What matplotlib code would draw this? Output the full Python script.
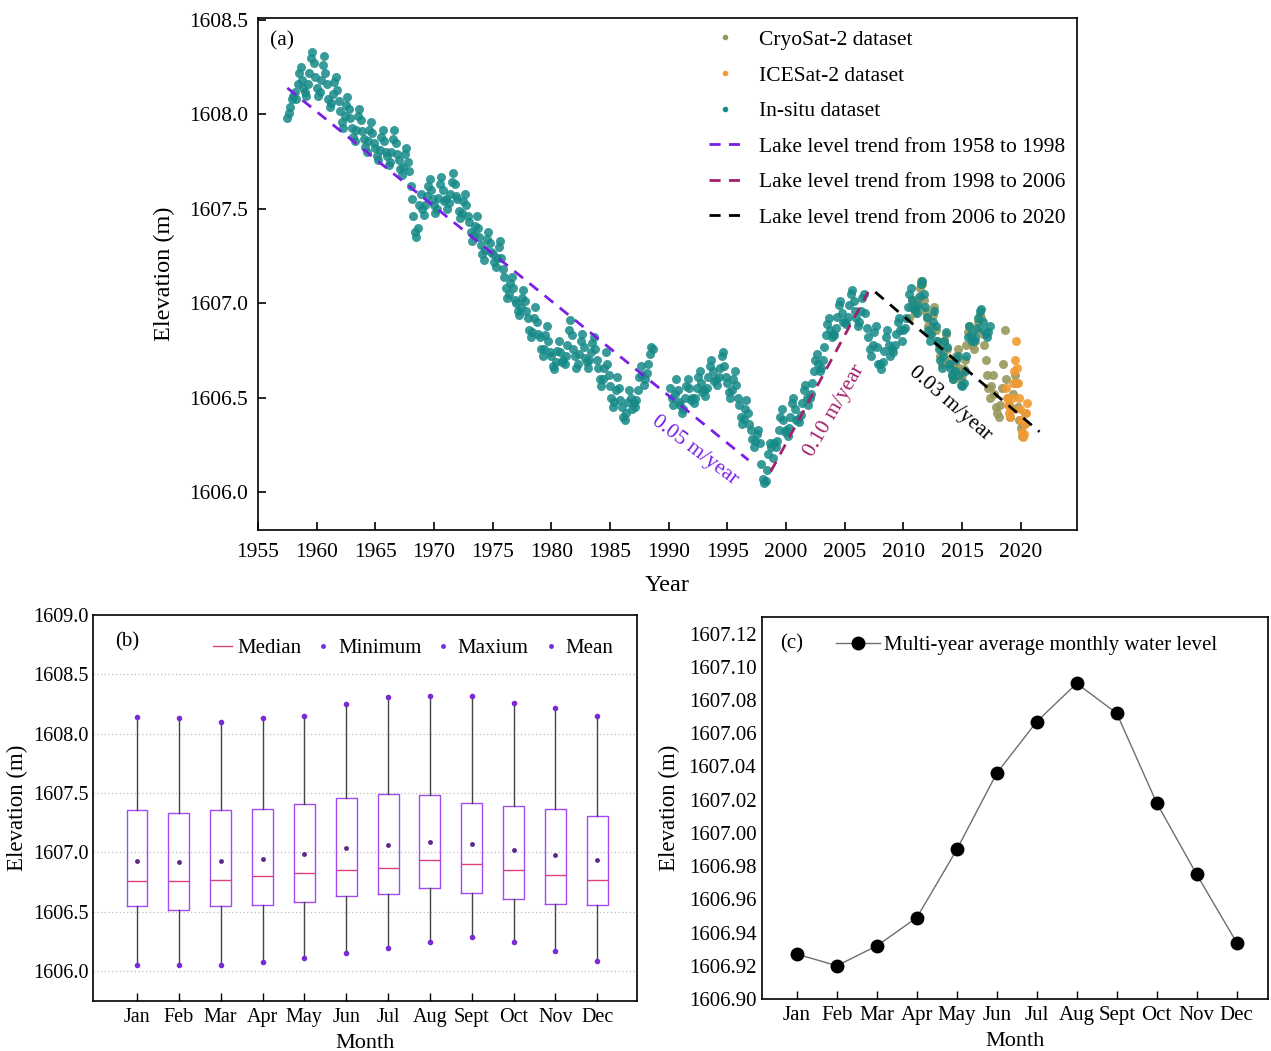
#!/usr/bin/env python3
"""
Lake level figure: (a) long-term elevation series with trend segments,
(b) monthly box statistics, (c) multi-year average monthly level.
"""

import numpy as np
import matplotlib
matplotlib.use("Agg")
import matplotlib.pyplot as plt
from matplotlib.lines import Line2D

plt.rcParams['font.family'] = ['Liberation Serif', 'DejaVu Serif']
plt.rcParams['mathtext.fontset'] = 'stix'

# ---------------------------------------------------------------------------
# (a) in-situ levels, 8 samples per year starting 1957.5 (nan = no record)
NAN = float('nan')
INSITU_START = 1957.5
INSITU_ROWS = [
    [1607.98, 1608.01, 1608.04, 1608.08],                                   # 1957 (2nd half)
    [1608.10, 1608.12, 1608.08, 1608.16, 1608.22, 1608.25, 1608.18, 1608.14],  # 1958
    [1608.12, 1608.10, 1608.16, 1608.22, 1608.30, 1608.33, 1608.27, 1608.20],
    [1608.14, 1608.10, 1608.12, 1608.18, 1608.26, 1608.31, 1608.22, 1608.16],  # 1960
    [1608.08, 1608.04, 1608.06, 1608.11, 1608.17, 1608.20, 1608.13, 1608.07],
    [1608.02, 1607.96, 1607.93, 1607.99, 1608.05, 1608.09, 1608.03, 1607.98],
    [1607.93, 1607.88, 1607.86, 1607.92, 1607.99, 1608.03, 1607.97, 1607.91],
    [1607.87, 1607.83, 1607.80, 1607.86, 1607.92, 1607.96, 1607.90, 1607.85],
    [1607.82, 1607.78, 1607.76, 1607.81, 1607.88, 1607.92, 1607.86, 1607.80],  # 1965
    [1607.78, 1607.73, 1607.75, 1607.80, 1607.87, 1607.92, 1607.85, 1607.79],
    [1607.76, 1607.71, 1607.68, 1607.72, 1607.79, 1607.82, 1607.75, 1607.70],
    [1607.62, 1607.55, 1607.46, 1607.38, 1607.35, 1607.40, 1607.52, 1607.58],
    [1607.50, 1607.47, 1607.52, 1607.57, 1607.62, 1607.66, 1607.60, 1607.55],
    [1607.52, 1607.48, 1607.50, 1607.56, 1607.63, 1607.67, 1607.60, 1607.54],  # 1970
    [1607.55, 1607.50, 1607.53, 1607.58, 1607.64, 1607.69, 1607.63, 1607.57],
    [1607.55, 1607.49, 1607.45, 1607.48, 1607.54, 1607.58, 1607.52, 1607.46],
    [1607.43, 1607.38, 1607.33, 1607.36, 1607.41, 1607.46, 1607.40, 1607.35],
    [1607.31, 1607.26, 1607.23, 1607.28, 1607.34, 1607.38, 1607.32, 1607.27],
    [1607.26, 1607.22, 1607.19, 1607.24, 1607.30, 1607.33, 1607.24, 1607.18],  # 1975
    [1607.14, 1607.08, 1607.03, 1607.05, 1607.11, 1607.14, 1607.08, 1607.02],
    [1607.00, 1606.96, 1606.94, 1606.98, 1607.03, 1607.07, 1607.01, 1606.96],
    [1606.92, 1606.86, 1606.82, 1606.85, 1606.92, 1606.98, 1606.90, 1606.84],
    [1606.82, 1606.76, 1606.72, 1606.76, 1606.83, 1606.88, 1606.80, 1606.74],
    [1606.72, 1606.67, 1606.65, 1606.69, 1606.75, 1606.80, 1606.74, 1606.69],  # 1980
    [1606.70, 1606.68, 1606.72, 1606.78, 1606.86, 1606.91, 1606.83, 1606.76],
    [1606.72, 1606.66, 1606.68, 1606.73, 1606.80, 1606.84, 1606.77, 1606.71],
    [1606.69, 1606.66, 1606.70, 1606.74, 1606.79, 1606.82, 1606.76, 1606.70],
    [1606.66, 1606.60, 1606.56, 1606.60, 1606.66, 1606.74, 1606.68, 1606.62],
    [1606.56, 1606.50, 1606.45, 1606.48, 1606.54, 1606.61, 1606.55, 1606.49],  # 1985
    [1606.45, 1606.40, 1606.38, 1606.42, 1606.48, 1606.54, 1606.50, 1606.44],
    [1606.47, 1606.45, 1606.49, 1606.54, 1606.61, 1606.67, 1606.62, 1606.57],
    [1606.60, 1606.63, 1606.68, 1606.73, 1606.77, 1606.76, NAN, NAN],
    [NAN, NAN, NAN, NAN, NAN, NAN, NAN, NAN],                                   # 1989
    [NAN, 1606.55, 1606.50, 1606.46, 1606.52, 1606.60, 1606.54, 1606.48],     # 1990
    [1606.46, 1606.42, 1606.44, 1606.50, 1606.56, 1606.60, 1606.55, 1606.49],
    [1606.50, 1606.47, 1606.50, 1606.55, 1606.61, 1606.64, 1606.58, 1606.53],
    [1606.54, 1606.51, 1606.55, 1606.61, 1606.67, 1606.70, 1606.64, 1606.59],
    [1606.60, 1606.57, 1606.61, 1606.66, 1606.72, 1606.74, 1606.67, 1606.61],
    [1606.58, 1606.53, 1606.50, 1606.54, 1606.60, 1606.64, 1606.57, 1606.50],  # 1995
    [1606.46, 1606.40, 1606.36, 1606.39, 1606.44, 1606.49, 1606.42, 1606.36],
    [1606.33, 1606.28, 1606.24, 1606.27, 1606.31, 1606.33, 1606.26, 1606.15],
    [1606.07, 1606.05, 1606.06, 1606.12, 1606.20, 1606.26, 1606.24, 1606.18],
    [1606.26, 1606.24, 1606.27, 1606.33, 1606.40, 1606.44, 1606.38, 1606.32],
    [1606.33, 1606.30, 1606.34, 1606.40, 1606.47, 1606.50, 1606.44, 1606.38],  # 2000
    [1606.39, 1606.37, 1606.41, 1606.47, 1606.54, 1606.57, 1606.50, 1606.46],
    [1606.50, 1606.52, 1606.58, 1606.64, 1606.70, 1606.73, 1606.68, 1606.64],
    [1606.66, 1606.70, 1606.77, 1606.83, 1606.89, 1606.92, 1606.86, 1606.82],
    [1606.84, 1606.83, 1606.87, 1606.93, 1606.99, 1607.01, 1606.95, 1606.90],
    [1606.90, 1606.89, 1606.93, 1606.99, 1607.05, 1607.07, 1607.01, 1606.96],  # 2005
    [1606.92, 1606.88, 1606.90, 1606.96, 1607.03, 1607.05, 1606.95, 1606.87],
    [1606.82, 1606.76, 1606.72, 1606.78, 1606.85, 1606.88, 1606.77, 1606.68],
    [1606.68, 1606.65, 1606.69, 1606.75, 1606.82, 1606.86, 1606.78, 1606.72],
    [1606.76, 1606.74, 1606.78, 1606.84, 1606.90, 1606.92, 1606.86, 1606.80],
    [1606.86, 1606.87, 1606.92, 1606.98, 1607.05, 1607.08, 1607.02, 1606.97],  # 2010
    [1606.97, 1606.95, 1606.99, 1607.04, 1607.10, 1607.12, 1607.05, 1606.98],
    [1606.93, 1606.86, 1606.80, 1606.84, 1606.90, 1606.96, 1606.88, 1606.80],
    [1606.76, 1606.70, 1606.66, 1606.72, 1606.80, 1606.85, 1606.77, 1606.68],
    [1606.66, 1606.62, 1606.60, 1606.64, 1606.70, 1606.72, 1606.62, 1606.57],
    [1606.56, 1606.58, 1606.64, 1606.72, 1606.82, 1606.88, 1606.84, 1606.80],  # 2015
    [1606.80, 1606.82, 1606.87, 1606.92, 1606.96, 1606.97, 1606.90, 1606.86],
    [1606.84, 1606.82, 1606.85, 1606.88],
]

# CryoSat-2 altimetry, 8 samples per year starting 2010.5
CRYO_START = 2010.5
CRYO_ROWS = [
    [1606.92, 1606.98, 1607.02, 1607.00],
    [1606.95, 1606.98, 1607.03, 1607.08, 1607.12, 1607.10, 1607.02, 1606.96],  # 2011
    [1606.92, 1606.88, 1606.84, 1606.88, 1606.94, 1606.98, 1606.86, 1606.80],
    [1606.78, 1606.72, 1606.68, 1606.74, 1606.80, 1606.84, 1606.76, 1606.70],
    [1606.68, 1606.62, 1606.60, 1606.66, 1606.72, 1606.76, 1606.66, 1606.60],
    [1606.62, 1606.65, 1606.70, 1606.78, 1606.85, 1606.88, 1606.82, 1606.78],  # 2015
    [1606.76, 1606.80, 1606.86, 1606.90, 1606.94, 1606.92, 1606.84, 1606.78],
    [1606.70, 1606.62, 1606.55, 1606.50, 1606.56, 1606.62, 1606.52, 1606.45],
    [1606.42, 1606.40, 1606.46, 1606.55, 1606.68, 1606.86, 1606.60, 1606.50],
    [1606.46, 1606.40, 1606.44, 1606.52, 1606.62, 1606.58, 1606.45, 1606.38],
    [1606.34, 1606.30, 1606.36, 1606.42],                                   # 2020
]

# ICESat-2 altimetry, monthly from 2018.75
ICE_START = 2018.75
ICE_VALUES = [1606.55, 1606.50, 1606.46, 1606.42, 1606.40, 1606.44, 1606.50, 1606.58,
              1606.64, 1606.70, 1606.80, 1606.66, 1606.58, 1606.50, 1606.44, 1606.38,
              1606.32, 1606.29, 1606.31, 1606.36, 1606.42, 1606.47]

# trend segments: (start year, end year), (start level, end level)
TREND_YEARS = [(1957.5, 1996.8), (1998.7, 2007.0), (2007.6, 2021.6)]
TREND_LEVELS = [(1608.14, 1606.17), (1606.11, 1607.06), (1607.06, 1606.32)]
TREND_LABELS = ['Lake level trend from 1958 to 1998',
                'Lake level trend from 1998 to 2006',
                'Lake level trend from 2006 to 2020']
RATE_TEXT = ['0.05 m/year', '0.10 m/year', '0.03 m/year']
RATE_POS = [(1992.2, 1606.22), (2004.1, 1606.43), (2014.0, 1606.47)]
RATE_ROT = [-37, 60, -41]

# ---------------------------------------------------------------------------
# (b) monthly statistics
MONTHS = ['Jan', 'Feb', 'Mar', 'Apr', 'May', 'Jun', 'Jul', 'Aug', 'Sept', 'Oct', 'Nov', 'Dec']
MONTH_MAX = [1608.14, 1608.13, 1608.10, 1608.13, 1608.15, 1608.25,
             1608.31, 1608.32, 1608.32, 1608.26, 1608.22, 1608.15]
MONTH_Q3 = [1607.36, 1607.33, 1607.36, 1607.37, 1607.41, 1607.46,
            1607.49, 1607.48, 1607.42, 1607.39, 1607.37, 1607.31]
MONTH_MED = [1606.76, 1606.76, 1606.77, 1606.80, 1606.83, 1606.85,
             1606.87, 1606.94, 1606.90, 1606.85, 1606.81, 1606.77]
MONTH_Q1 = [1606.55, 1606.52, 1606.55, 1606.56, 1606.58, 1606.63,
            1606.65, 1606.70, 1606.66, 1606.61, 1606.57, 1606.56]
MONTH_MIN = [1606.05, 1606.05, 1606.05, 1606.08, 1606.11, 1606.15,
             1606.20, 1606.25, 1606.29, 1606.25, 1606.17, 1606.09]
# (c) multi-year average monthly level (also the box means)
MONTH_MEAN = [1606.927, 1606.920, 1606.932, 1606.949, 1606.990, 1607.036,
              1607.067, 1607.090, 1607.072, 1607.018, 1606.975, 1606.934]

TEAL = '#168a87'
OLIVE = '#97985c'
ORANGE = '#f29a33'
PURPLE = '#7a1fe6'
MAGENTA = '#a3206a'


def series(start, rows, step):
    vals = np.array([v for row in rows for v in row], dtype=float)
    t = start + np.arange(len(vals)) * step
    return t, vals


def plot_series(ax):
    t_c, v_c = series(CRYO_START, CRYO_ROWS, 1 / 8)
    t_i, v_i = series(ICE_START, [ICE_VALUES], 1 / 12)
    t_s, v_s = series(INSITU_START, INSITU_ROWS, 1 / 8)

    ax.scatter(t_c, v_c, s=42, color=OLIVE, alpha=0.9, lw=0, zorder=2)
    ax.scatter(t_i, v_i, s=42, color=ORANGE, alpha=0.9, lw=0, zorder=2)
    ax.scatter(t_s, v_s, s=42, color=TEAL, alpha=0.85, lw=0, zorder=3)

    colors = [PURPLE, MAGENTA, 'black']
    for yrs, lv, c in zip(TREND_YEARS, TREND_LEVELS, colors):
        ax.plot(yrs, lv, color=c, lw=2, ls=(0, (4, 3)), zorder=4)
    for txt, pos, rot, c in zip(RATE_TEXT, RATE_POS, RATE_ROT, colors):
        ax.text(pos[0], pos[1], txt, color=c, fontsize=15.5, rotation=rot,
                rotation_mode='anchor', ha='center', va='center', zorder=5)

    ax.set_xlim(1955, 2024.8)
    ax.set_ylim(1605.80, 1608.51)
    ax.set_xticks(np.arange(1955, 2021, 5))
    ax.set_yticks(np.arange(1606.0, 1608.51, 0.5))
    ax.yaxis.set_major_formatter(matplotlib.ticker.FormatStrFormatter('%.1f'))
    ax.tick_params(direction='in', length=6, width=1.2, labelsize=15.5, pad=7)
    ax.tick_params(axis='x', pad=9)
    ax.set_xlabel('Year', fontsize=17.5, labelpad=10)
    ax.set_ylabel('Elevation (m)', fontsize=17.5, labelpad=10)
    ax.text(0.015, 0.955, '(a)', transform=ax.transAxes, fontsize=15.5, va='center')

    handles = [
        Line2D([], [], ls='none', marker='o', ms=3, color=OLIVE),
        Line2D([], [], ls='none', marker='o', ms=3, color=ORANGE),
        Line2D([], [], ls='none', marker='o', ms=3, color=TEAL),
    ] + [Line2D([], [], color=c, lw=2, ls=(0, (4, 3))) for c in colors]
    labels = ['CryoSat-2 dataset', 'ICESat-2 dataset', 'In-situ dataset'] + TREND_LABELS
    ax.legend(handles, labels, loc='upper right', frameon=False, fontsize=15.5,
              handlelength=1.5, handletextpad=0.8, labelspacing=0.72,
              borderaxespad=0.15)


def plot_boxes(ax):
    pos = np.arange(len(MONTHS))
    stats = []
    for i, m in enumerate(MONTHS):
        stats.append(dict(label=m, med=MONTH_MED[i], q1=MONTH_Q1[i], q3=MONTH_Q3[i],
                          whislo=MONTH_MIN[i], whishi=MONTH_MAX[i],
                          mean=MONTH_MEAN[i], fliers=[]))
    ax.bxp(stats, positions=pos, widths=0.5, showmeans=True, showcaps=False,
           boxprops=dict(color='#a24cf0', lw=1),
           medianprops=dict(color='#e0407a', lw=1),
           whiskerprops=dict(color='#444444', lw=1),
           meanprops=dict(marker='o', ms=3.5, mfc='#5e2a8a', mec='none'))
    ax.plot(pos, MONTH_MIN, ls='none', marker='o', ms=3, color='#7a2bd6', zorder=4)
    ax.plot(pos, MONTH_MAX, ls='none', marker='o', ms=3, color='#7a2bd6', zorder=4)

    ax.set_xlim(-1.05, 11.95)
    ax.set_ylim(1605.75, 1609.0)
    ax.set_yticks(np.arange(1606.0, 1609.01, 0.5))
    ax.yaxis.set_major_formatter(matplotlib.ticker.FormatStrFormatter('%.1f'))
    ax.set_xticks(pos)
    ax.set_xticklabels(MONTHS)
    for y in np.arange(1606.0, 1608.51, 0.5):
        ax.axhline(y, color='#bbbbbb', lw=0.9, ls=(0, (1, 2)), zorder=0)
    ax.tick_params(axis='x', direction='in', length=6, width=1, labelsize=14.5, pad=5)
    ax.tick_params(axis='y', length=0, labelsize=14.5, pad=3)
    ax.set_xlabel('Month', fontsize=16, labelpad=5)
    ax.set_ylabel('Elevation (m)', fontsize=16.5, labelpad=4)
    ax.text(0.04, 0.93, '(b)', transform=ax.transAxes, fontsize=15, va='center')

    handles = [Line2D([], [], color='#e0407a', lw=1)] + \
              [Line2D([], [], ls='none', marker='o', ms=2.5, color='#7a2bd6')] * 3
    ax.legend(handles, ['Median', 'Minimum', 'Maxium', 'Mean'], loc='upper right',
              ncol=4, frameon=False, fontsize=15, handlelength=0.9,
              handletextpad=0.25, columnspacing=0.6, borderaxespad=0.75)


def plot_monthly(ax):
    pos = np.arange(len(MONTHS))
    ax.plot(pos, MONTH_MEAN, color='#6e6e6e', lw=1, marker='o', ms=9,
            mfc='black', mec='black', label='Multi-year average monthly water level')
    ax.set_xlim(-0.875, 11.78)
    ax.set_ylim(1606.90, 1607.13)
    ax.set_yticks(np.arange(1606.90, 1607.121, 0.02))
    ax.yaxis.set_major_formatter(matplotlib.ticker.FormatStrFormatter('%.2f'))
    ax.set_xticks(pos)
    ax.set_xticklabels(MONTHS)
    ax.tick_params(axis='x', direction='in', length=6, width=1, labelsize=15, pad=5)
    ax.tick_params(axis='y', length=0, labelsize=15, pad=4)
    ax.set_xlabel('Month', fontsize=16, labelpad=5)
    ax.set_ylabel('Elevation (m)', fontsize=16.5, labelpad=6)
    ax.text(0.036, 0.93, '(c)', transform=ax.transAxes, fontsize=15, va='center')
    ax.legend(loc='upper left', bbox_to_anchor=(0.11, 1.0), frameon=False,
              fontsize=15, handlelength=2.1, handletextpad=0.2, borderaxespad=0.5)


def main():
    fig = plt.figure(figsize=(12.71, 10.51), dpi=100)
    ax_a = fig.add_axes([0.203, 0.4957, 0.6444, 0.4871])
    ax_b = fig.add_axes([0.0732, 0.0476, 0.428, 0.3673])
    ax_c = fig.add_axes([0.5995, 0.0495, 0.398, 0.3635])
    for ax in (ax_a, ax_b, ax_c):
        for sp in ax.spines.values():
            sp.set_linewidth(1.2)

    plot_series(ax_a)
    plot_boxes(ax_b)
    plot_monthly(ax_c)

    fig.savefig('out.png', dpi=100)


if __name__ == '__main__':
    main()
